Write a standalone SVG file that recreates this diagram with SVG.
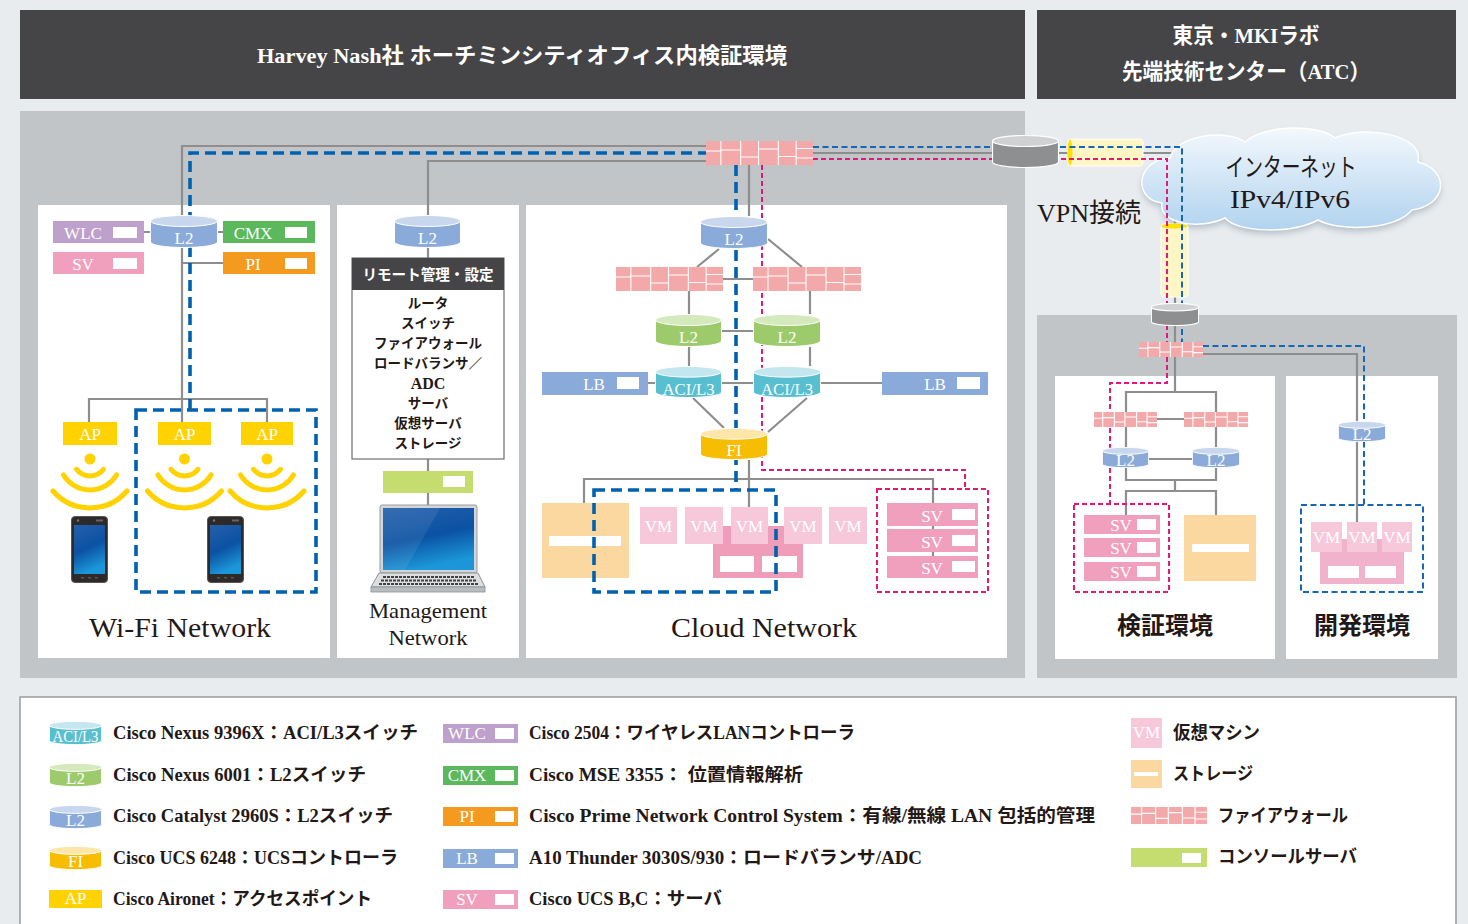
<svg xmlns="http://www.w3.org/2000/svg" width="1468" height="924" viewBox="0 0 1468 924">
<defs>
<style>
.sf{font-family:"Liberation Serif","Noto Sans CJK JP",serif}
.ink{fill:#231815}
.ln{fill:none;stroke:#8e8e8e;stroke-width:2.2}
.db{fill:none;stroke:#0061b0;stroke-width:3.6;stroke-dasharray:11 6}
.dbt{fill:none;stroke:#1767b4;stroke-width:2;stroke-dasharray:6 3.5}
.dp{fill:none;stroke:#e4177b;stroke-width:2;stroke-dasharray:5 3}
.lb{font-family:"Liberation Serif",serif;font-size:17px;text-anchor:middle;fill:#fff}
.slot{fill:#fff}
.vm{fill:#f6c8da}
.sv{fill:#f0a0bd}
.st{fill:#fad8a0}
.ap{fill:#ffd200}
.lg{font-family:"Liberation Serif","Noto Sans CJK JP",serif;font-size:18px;font-weight:600;fill:#231815}
.ttl{font-family:"Liberation Serif","Noto Sans CJK JP",serif;fill:#231815;text-anchor:middle}
</style>
<linearGradient id="gCloud" x1="0" y1="0" x2="0" y2="1"><stop offset="0" stop-color="#f3f8fd"/><stop offset="1" stop-color="#b1d3ef"/></linearGradient>
<linearGradient id="gScr" x1="0" y1="0" x2="0.3" y2="1"><stop offset="0" stop-color="#2560ab"/><stop offset="0.55" stop-color="#0b52a3"/><stop offset="1" stop-color="#1b96d8"/></linearGradient>
<filter id="fShadow" x="-10%" y="-20%" width="120%" height="140%"><feGaussianBlur stdDeviation="3"/></filter>

<symbol id="cylBlue" viewBox="0 0 68 33" preserveAspectRatio="none">
<path d="M0.5,6V27A33.5,5.5 0 0 0 67.5,27V6Z" fill="#8aaad9" stroke="#fff" stroke-width="1" vector-effect="non-scaling-stroke"/>
<ellipse cx="34" cy="6" rx="33.5" ry="5.5" fill="#c8d7ee" stroke="#fff" stroke-width="1" vector-effect="non-scaling-stroke"/>
</symbol>
<symbol id="cylGreen" viewBox="0 0 68 33" preserveAspectRatio="none">
<path d="M0.5,6V27A33.5,5.5 0 0 0 67.5,27V6Z" fill="#9dcb6c" stroke="#fff" stroke-width="1" vector-effect="non-scaling-stroke"/>
<ellipse cx="34" cy="6" rx="33.5" ry="5.5" fill="#d4e9bc" stroke="#fff" stroke-width="1" vector-effect="non-scaling-stroke"/>
</symbol>
<symbol id="cylAci" viewBox="0 0 68 33" preserveAspectRatio="none">
<path d="M0.5,6V27A33.5,5.5 0 0 0 67.5,27V6Z" fill="#58bfd1" stroke="#fff" stroke-width="1" vector-effect="non-scaling-stroke"/>
<ellipse cx="34" cy="6" rx="33.5" ry="5.5" fill="#c4e6ef" stroke="#fff" stroke-width="1" vector-effect="non-scaling-stroke"/>
</symbol>
<symbol id="cylFi" viewBox="0 0 68 33" preserveAspectRatio="none">
<path d="M0.5,6V27A33.5,5.5 0 0 0 67.5,27V6Z" fill="#f7bd00" stroke="#fff" stroke-width="1" vector-effect="non-scaling-stroke"/>
<ellipse cx="34" cy="6" rx="33.5" ry="5.5" fill="#fde6a8" stroke="#fff" stroke-width="1" vector-effect="non-scaling-stroke"/>
</symbol>
<symbol id="cylGray" viewBox="0 0 68 33" preserveAspectRatio="none">
<path d="M0.5,6V27A33.5,5.5 0 0 0 67.5,27V6Z" fill="#8d8f91" stroke="#fff" stroke-width="1.2" vector-effect="non-scaling-stroke"/>
<ellipse cx="34" cy="6" rx="33.5" ry="5.5" fill="#d0d1d2" stroke="#fff" stroke-width="1.2" vector-effect="non-scaling-stroke"/>
</symbol>
<!-- brick-wall firewall, six columns -->
<symbol id="fw" viewBox="0 0 108 24" preserveAspectRatio="none">
<rect width="108" height="24" fill="#f3a9a9"/>
<path d="M15,0V24M35,0V24M53,0V24M73,0V24M91,0V24M0,10H15M15,9H35M35,16H53M53,8H73M73,15.5H91M91,7.5H108M91,17H108" fill="none" stroke="#fff" stroke-width="1.1" vector-effect="non-scaling-stroke"/>
</symbol>
<g id="wifi" fill="none" stroke="#ffd200" stroke-width="5" stroke-linecap="round">
<circle cx="0" cy="0" r="5.5" fill="#ffd200" stroke="none"/>
<path d="M-13.5,10.3A17,17 0 0 0 13.5,10.3"/>
<path d="M-26.5,16A31,31 0 0 0 26.5,16"/>
<path d="M-37,32A49,49 0 0 0 37,32"/>
</g>
<g id="phone">
<rect x="0.5" y="0.5" width="36" height="66" rx="3.5" fill="#2e2a29" stroke="#5a5554"/>
<rect x="3" y="9" width="31" height="49" fill="url(#gScr)"/>
<circle cx="7" cy="4.5" r="1.2" fill="#777"/>
<rect x="25" y="3.5" width="7" height="2" fill="#666"/>
<rect x="10" y="61" width="3" height="1.5" fill="#555"/>
<rect x="17" y="61" width="3" height="1.5" fill="#555"/>
<rect x="24" y="61" width="3" height="1.5" fill="#555"/>
</g>
</defs>

<!-- page -->
<rect width="1468" height="924" fill="#e8ecef"/>

<!-- headers -->
<g id="header-hcm">
<rect x="20" y="10" width="1005" height="89" fill="#454547"/>
<text class="sf" x="522" y="63" font-size="22" font-weight="bold" fill="#fff" text-anchor="middle" textLength="530" lengthAdjust="spacingAndGlyphs">Harvey Nash社 ホーチミンシティオフィス内検証環境</text>
</g>
<g id="header-tokyo">
<rect x="1037" y="10" width="419" height="89" fill="#454547"/>
<text class="sf" x="1246" y="43" font-size="22" font-weight="bold" fill="#fff" text-anchor="middle" textLength="147" lengthAdjust="spacingAndGlyphs">東京・MKIラボ</text>
<text class="sf" x="1246" y="79" font-size="22" font-weight="bold" fill="#fff" text-anchor="middle" textLength="248" lengthAdjust="spacingAndGlyphs">先端技術センター（ATC）</text>
</g>

<!-- areas -->
<g id="areas">
<rect x="20" y="111" width="1005" height="567" fill="#c1c5c7"/>
<rect x="1037" y="315" width="420" height="363" fill="#c1c5c7"/>
<rect x="38" y="205" width="292" height="453" fill="#fff"/>
<rect x="337" y="205" width="182" height="453" fill="#fff"/>
<rect x="526" y="205" width="481" height="453" fill="#fff"/>
<rect x="1055" y="376" width="220" height="283" fill="#fff"/>
<rect x="1286" y="376" width="152" height="283" fill="#fff"/>
</g>

<!-- connectors -->
<g id="connectors">
<path class="ln" d="M182,400V146H706M89,422V399H267V422M182,399V422M182,263H223M144,232H150M218,232H223"/>
<path class="ln" d="M428,215V161H706M428,247V258M428,459V471M428,493V505"/>
<path class="ln" d="M749,165V216M719,249L697,267M768,239L802,267M723,279H753M689,291V314M810,291V314M722,331H753M689,347V366M810,347V366M722,383H753M648,383H655M821,383H882M693,398L724,428M807,398L768,432M749,460V507M584,503V479H933V565"/>
<path class="ln" d="M813,153H1175V342M1203,354H1357V522M1175,357V392M1126,412V392H1216V412M1157,419H1184M1126,427V447M1216,427V447M1149,459H1192M1126,468V480H1216V468M1175,480V491M1126,515V491H1216V515"/>
</g>

<!-- internet cloud -->
<g id="internet">
<path d="M1162,207C1133,204 1135,164 1170,162C1175,140 1225,132 1245,146C1265,128 1320,128 1335,142C1365,128 1425,139 1418,166C1450,174 1448,209 1412,214C1395,234 1340,236 1318,224C1292,238 1238,237 1225,222C1200,234 1158,228 1162,207Z" fill="#7a8a98" opacity="0.45" filter="url(#fShadow)"/>
<path d="M1162,203C1133,200 1135,160 1170,158C1175,136 1225,128 1245,142C1265,124 1320,124 1335,138C1365,124 1425,135 1418,162C1450,170 1448,205 1412,210C1395,230 1340,232 1318,220C1292,234 1238,233 1225,218C1200,230 1158,224 1162,203Z" fill="url(#gCloud)" stroke="#fff" stroke-width="1.5"/>
<text class="ttl" x="1291" y="176" font-size="25" textLength="131" lengthAdjust="spacingAndGlyphs">インターネット</text>
<text class="ttl" x="1290" y="208" font-size="26" textLength="120" lengthAdjust="spacingAndGlyphs">IPv4/IPv6</text>
</g>

<!-- VPN tunnels -->
<g id="vpn">
<rect x="1068" y="139" width="75" height="27" rx="3" fill="#fff6c6" stroke="#fff" stroke-width="1"/>
<ellipse cx="1070" cy="152.5" rx="2.5" ry="13" fill="#ffe000"/>
<rect x="1161" y="224" width="27" height="73" rx="3" fill="#fff6c6" stroke="#fff" stroke-width="1"/>
<ellipse cx="1174.5" cy="226" rx="13" ry="2.5" fill="#ffe000"/>
<text class="ttl" x="1037" y="222" font-size="26" style="text-anchor:start" textLength="104" lengthAdjust="spacingAndGlyphs">VPN接続</text>
</g>

<!-- traffic paths -->
<g id="paths">
<path class="db" d="M190,410V153H706"/>
<path class="db" d="M736,165V490"/>
<path class="dp" d="M762,165V470H965V489"/>
<path class="dbt" d="M813,147H1182V342M1203,346H1364V505"/>
<path class="dp" d="M813,159H1167V342M1167,357V383H1110V504"/>
</g>

<!-- Wi-Fi network -->
<g id="n-wifi-l2"><use href="#cylBlue" x="150" y="215" width="68" height="33"/><text class="lb" x="184" y="244">L2</text></g>
<g id="n-wlc"><rect x="53" y="221" width="91" height="22" fill="#bea0cc"/><rect class="slot" x="113" y="227" width="24" height="11"/><text class="lb" x="83" y="239">WLC</text></g>
<g id="n-wifi-sv"><rect x="53" y="252" width="91" height="22" class="sv"/><rect class="slot" x="113" y="258" width="24" height="11"/><text class="lb" x="83" y="270">SV</text></g>
<g id="n-cmx"><rect x="223" y="221" width="92" height="22" fill="#5cb85c"/><rect class="slot" x="285" y="227" width="22" height="11"/><text class="lb" x="253" y="239">CMX</text></g>
<g id="n-pi"><rect x="223" y="252" width="92" height="22" fill="#f39a1f"/><rect class="slot" x="285" y="258" width="22" height="11"/><text class="lb" x="253" y="270">PI</text></g>
<g id="n-ap1"><rect class="ap" x="63" y="422" width="54" height="23"/><text class="lb" x="90" y="440">AP</text><use href="#wifi" x="90" y="459"/><use href="#phone" x="71" y="516"/></g>
<g id="n-ap2"><rect class="ap" x="158" y="422" width="53" height="23"/><text class="lb" x="184.5" y="440">AP</text><use href="#wifi" x="184.5" y="459"/><use href="#phone" x="207" y="516"/></g>
<g id="n-ap3"><rect class="ap" x="241" y="422" width="52" height="23"/><text class="lb" x="267" y="440">AP</text><use href="#wifi" x="267" y="459"/></g>
<rect class="db" x="136" y="410" width="180" height="182"/>
<text class="ttl" x="180" y="637" font-size="27" textLength="182" lengthAdjust="spacingAndGlyphs">Wi-Fi Network</text>

<!-- Management network -->
<g id="n-mgmt-l2"><use href="#cylBlue" x="394" y="215" width="67" height="33"/><text class="lb" x="427.5" y="244">L2</text></g>
<g id="n-remote">
<rect x="352" y="258" width="152" height="201" fill="#fff" stroke="#6f6f6f" stroke-width="1.2"/>
<rect x="352" y="258" width="152" height="32" fill="#454547"/>
<text class="sf" x="428" y="280" font-size="15" font-weight="bold" fill="#fff" text-anchor="middle" textLength="131" lengthAdjust="spacingAndGlyphs">リモート管理・設定</text>
<g class="sf" font-size="13.5" font-weight="bold" fill="#231815" text-anchor="middle">
<text x="428" y="308">ルータ</text>
<text x="428" y="328">スイッチ</text>
<text x="428" y="348">ファイアウォール</text>
<text x="428" y="368">ロードバランサ／</text>
<text x="428" y="389" font-size="16">ADC</text>
<text x="428" y="408">サーバ</text>
<text x="428" y="428">仮想サーバ</text>
<text x="428" y="448">ストレージ</text>
</g>
</g>
<g id="n-console"><rect x="383" y="471" width="90" height="22" fill="#c5dc6e"/><rect class="slot" x="443" y="476" width="22" height="11"/></g>
<g id="n-laptop">
<rect x="380" y="505" width="97" height="68" rx="2" fill="#d3d6d9" stroke="#9a9da0" stroke-width="1"/>
<rect x="383" y="508" width="91" height="62" fill="url(#gScr)"/>
<path d="M383,508H440L405,570H383Z" fill="#fff" opacity="0.08"/>
<path d="M379,573H478L485,587H371Z" fill="#dcdedf" stroke="#8e9193" stroke-width="1"/>
<path d="M383,577H474M381,580.5H476M379,584H478" stroke="#3f4143" stroke-width="2.2" stroke-dasharray="3 1"/>
<rect x="371" y="587" width="114" height="5" fill="#b9bcbe" stroke="#8e9193" stroke-width="0.8"/>
</g>
<text class="ttl" x="428" y="618" font-size="21" textLength="118" lengthAdjust="spacingAndGlyphs">Management</text>
<text class="ttl" x="428" y="645" font-size="21" textLength="79" lengthAdjust="spacingAndGlyphs">Network</text>

<!-- Cloud network -->
<g id="n-fw-top"><use href="#fw" x="706" y="141" width="107" height="24"/></g>
<g id="n-router"><use href="#cylGray" x="992" y="135" width="67" height="33"/></g>
<g id="n-cloud-l2"><use href="#cylBlue" x="700" y="216" width="68" height="33"/><text class="lb" x="734" y="245">L2</text></g>
<g id="n-fw-l"><use href="#fw" x="616" y="267" width="107" height="24"/></g>
<g id="n-fw-r"><use href="#fw" x="753" y="267" width="108" height="24"/></g>
<g id="n-n6k-l"><use href="#cylGreen" x="655" y="314" width="67" height="33"/><text class="lb" x="688.5" y="343">L2</text></g>
<g id="n-n6k-r"><use href="#cylGreen" x="753" y="314" width="68" height="33"/><text class="lb" x="787" y="343">L2</text></g>
<g id="n-aci-l"><use href="#cylAci" x="655" y="366" width="67" height="32"/><text class="lb" x="688.5" y="395" font-size="16" textLength="52" lengthAdjust="spacingAndGlyphs">ACI/L3</text></g>
<g id="n-aci-r"><use href="#cylAci" x="753" y="366" width="68" height="32"/><text class="lb" x="787" y="395" font-size="16" textLength="52" lengthAdjust="spacingAndGlyphs">ACI/L3</text></g>
<g id="n-lb-l"><rect x="542" y="372" width="106" height="23" fill="#8aaad9"/><rect class="slot" x="617" y="377" width="22" height="12"/><text class="lb" x="594" y="390">LB</text></g>
<g id="n-lb-r"><rect x="882" y="372" width="106" height="23" fill="#8aaad9"/><rect class="slot" x="957" y="377" width="23" height="12"/><text class="lb" x="935" y="390">LB</text></g>
<g id="n-fi"><use href="#cylFi" x="700" y="428" width="68" height="32"/><text class="lb" x="734" y="456">FI</text></g>
<g id="n-cloud-storage"><rect class="st" x="542" y="503" width="87" height="75"/><rect class="slot" x="549" y="536" width="72" height="10"/></g>
<g id="n-cloud-host"><rect x="713" y="526" width="90" height="52" fill="#f09dba"/><rect class="slot" x="720" y="556" width="34" height="16"/><rect class="slot" x="762" y="556" width="35" height="16"/></g>
<g id="n-cloud-vms">
<rect class="vm" x="640" y="507" width="37" height="37"/><text class="lb" x="658.5" y="532">VM</text>
<rect class="vm" x="685" y="507" width="38" height="37"/><text class="lb" x="704" y="532">VM</text>
<rect class="vm" x="731" y="507" width="37" height="37"/><text class="lb" x="749.5" y="532">VM</text>
<rect class="vm" x="784" y="507" width="38" height="37"/><text class="lb" x="803" y="532">VM</text>
<rect class="vm" x="829" y="507" width="38" height="37"/><text class="lb" x="848" y="532">VM</text>
</g>
<g id="n-cloud-sv">
<rect class="sv" x="887" y="503" width="91" height="23"/><rect class="slot" x="952" y="509" width="23" height="11"/><text class="lb" x="932" y="522" font-size="20">SV</text>
<rect class="sv" x="887" y="529" width="91" height="23"/><rect class="slot" x="952" y="535" width="23" height="11"/><text class="lb" x="932" y="548" font-size="20">SV</text>
<rect class="sv" x="887" y="556" width="91" height="22"/><rect class="slot" x="952" y="561" width="23" height="11"/><text class="lb" x="932" y="574" font-size="20">SV</text>
</g>
<rect class="db" x="594" y="490" width="182" height="102"/>
<rect class="dp" x="877" y="489" width="111" height="103"/>
<text class="ttl" x="764" y="637" font-size="27" textLength="186" lengthAdjust="spacingAndGlyphs">Cloud Network</text>

<!-- Tokyo lab -->
<g id="n-router2"><use href="#cylGray" x="1151" y="303" width="48" height="23"/></g>
<g id="n-fw2"><use href="#fw" x="1139" y="342" width="64" height="15"/></g>
<g id="n-fw3a"><use href="#fw" x="1094" y="412" width="63" height="15"/></g>
<g id="n-fw3b"><use href="#fw" x="1184" y="412" width="64" height="15"/></g>
<g id="n-lab-l2a"><use href="#cylBlue" x="1102" y="447" width="47" height="21"/><text class="lb" x="1125.5" y="466" font-size="13">L2</text></g>
<g id="n-lab-l2b"><use href="#cylBlue" x="1192" y="447" width="48" height="21"/><text class="lb" x="1216" y="466" font-size="13">L2</text></g>
<g id="n-lab-sv">
<rect class="sv" x="1084" y="515" width="76" height="19"/><rect class="slot" x="1137" y="519" width="19" height="11"/><text class="lb" x="1121" y="531" font-size="16">SV</text>
<rect class="sv" x="1084" y="538" width="76" height="19"/><rect class="slot" x="1137" y="542" width="19" height="11"/><text class="lb" x="1121" y="554" font-size="16">SV</text>
<rect class="sv" x="1084" y="562" width="76" height="19"/><rect class="slot" x="1137" y="566" width="19" height="11"/><text class="lb" x="1121" y="578" font-size="16">SV</text>
</g>
<g id="n-lab-storage"><rect class="st" x="1184" y="515" width="72" height="66"/><rect class="slot" x="1192" y="544" width="57" height="8"/></g>
<rect class="dp" x="1074" y="504" width="95" height="88"/>
<text class="ttl" x="1165" y="634" font-size="24" font-weight="bold">検証環境</text>

<g id="n-dev-l2"><use href="#cylBlue" x="1338" y="421" width="48" height="21"/><text class="lb" x="1362" y="440" font-size="13">L2</text></g>
<g id="n-dev-host"><rect x="1320" y="539" width="84" height="45" fill="#f1b3cc"/><rect class="slot" x="1328" y="566" width="31" height="12"/><rect class="slot" x="1365" y="566" width="31" height="12"/></g>
<g id="n-dev-vms">
<rect class="vm" x="1311" y="522" width="31" height="30"/><text class="lb" x="1326.5" y="543" font-size="14">VM</text>
<rect class="vm" x="1347" y="522" width="30" height="30"/><text class="lb" x="1362" y="543" font-size="14">VM</text>
<rect class="vm" x="1382" y="522" width="30" height="30"/><text class="lb" x="1397" y="543" font-size="14">VM</text>
</g>
<rect class="dbt" x="1301" y="505" width="122" height="87" stroke-width="2.3"/>
<text class="ttl" x="1362" y="634" font-size="24" font-weight="bold">開発環境</text>

<!-- legend -->
<g id="legend">
<rect x="20" y="697" width="1436" height="240" fill="#fff" stroke="#9a9a9a" stroke-width="1.5"/>
<use href="#cylAci" x="49" y="721" width="53" height="24"/><text class="lb" x="75.5" y="742" font-size="12" textLength="46" lengthAdjust="spacingAndGlyphs">ACI/L3</text>
<use href="#cylGreen" x="49" y="763" width="53" height="24"/><text class="lb" x="75.5" y="784" font-size="13">L2</text>
<use href="#cylBlue" x="49" y="805" width="53" height="24"/><text class="lb" x="75.5" y="826" font-size="13">L2</text>
<use href="#cylFi" x="49" y="846" width="53" height="24"/><text class="lb" x="75.5" y="867" font-size="13">FI</text>
<rect class="ap" x="49" y="890" width="53" height="18"/><text class="lb" x="75.5" y="904" font-size="13">AP</text>
<text class="lg" x="113" y="739" textLength="305" lengthAdjust="spacingAndGlyphs">Cisco Nexus 9396X：ACI/L3スイッチ</text>
<text class="lg" x="113" y="781" textLength="253" lengthAdjust="spacingAndGlyphs">Cisco Nexus 6001：L2スイッチ</text>
<text class="lg" x="113" y="822" textLength="280" lengthAdjust="spacingAndGlyphs">Cisco Catalyst 2960S：L2スイッチ</text>
<text class="lg" x="113" y="864" textLength="285" lengthAdjust="spacingAndGlyphs">Cisco UCS 6248：UCSコントローラ</text>
<text class="lg" x="113" y="905" textLength="259" lengthAdjust="spacingAndGlyphs">Cisco Aironet：アクセスポイント</text>

<rect x="443" y="724" width="75" height="19" fill="#bea0cc"/><rect class="slot" x="495" y="728" width="19" height="11"/><text class="lb" x="467" y="739" font-size="13">WLC</text>
<rect x="443" y="766" width="75" height="19" fill="#5cb85c"/><rect class="slot" x="495" y="770" width="19" height="11"/><text class="lb" x="467" y="781" font-size="13">CMX</text>
<rect x="443" y="807" width="75" height="19" fill="#f39a1f"/><rect class="slot" x="495" y="811" width="19" height="11"/><text class="lb" x="467" y="822" font-size="13">PI</text>
<rect x="443" y="849" width="75" height="19" fill="#8aaad9"/><rect class="slot" x="495" y="853" width="19" height="11"/><text class="lb" x="467" y="864" font-size="13">LB</text>
<rect x="443" y="890" width="75" height="19" class="sv"/><rect class="slot" x="495" y="894" width="19" height="11"/><text class="lb" x="467" y="905" font-size="13">SV</text>
<text class="lg" x="529" y="739" textLength="326" lengthAdjust="spacingAndGlyphs">Cisco 2504：ワイヤレスLANコントローラ</text>
<text class="lg" x="529" y="781" textLength="274" lengthAdjust="spacingAndGlyphs">Cisco MSE 3355： 位置情報解析</text>
<text class="lg" x="529" y="822" textLength="566" lengthAdjust="spacingAndGlyphs">Cisco Prime Network Control System：有線/無線 LAN 包括的管理</text>
<text class="lg" x="529" y="864" textLength="393" lengthAdjust="spacingAndGlyphs">A10 Thunder 3030S/930：ロードバランサ/ADC</text>
<text class="lg" x="529" y="905" textLength="193" lengthAdjust="spacingAndGlyphs">Cisco UCS B,C：サーバ</text>

<rect class="vm" x="1131" y="718" width="31" height="30"/><text class="lb" x="1146.5" y="738" font-size="13">VM</text>
<rect class="st" x="1131" y="760" width="31" height="28"/><rect class="slot" x="1134" y="772" width="24" height="4"/>
<use href="#fw" x="1131" y="807" width="76" height="17"/>
<rect x="1131" y="848" width="76" height="19" fill="#c5dc6e"/><rect class="slot" x="1182" y="853" width="19" height="10"/>
<text class="lg" x="1173" y="739" textLength="87" lengthAdjust="spacingAndGlyphs">仮想マシン</text>
<text class="lg" x="1173" y="780" textLength="80" lengthAdjust="spacingAndGlyphs">ストレージ</text>
<text class="lg" x="1218" y="822" textLength="130" lengthAdjust="spacingAndGlyphs">ファイアウォール</text>
<text class="lg" x="1218" y="863" textLength="139" lengthAdjust="spacingAndGlyphs">コンソールサーバ</text>
</g>
</svg>
